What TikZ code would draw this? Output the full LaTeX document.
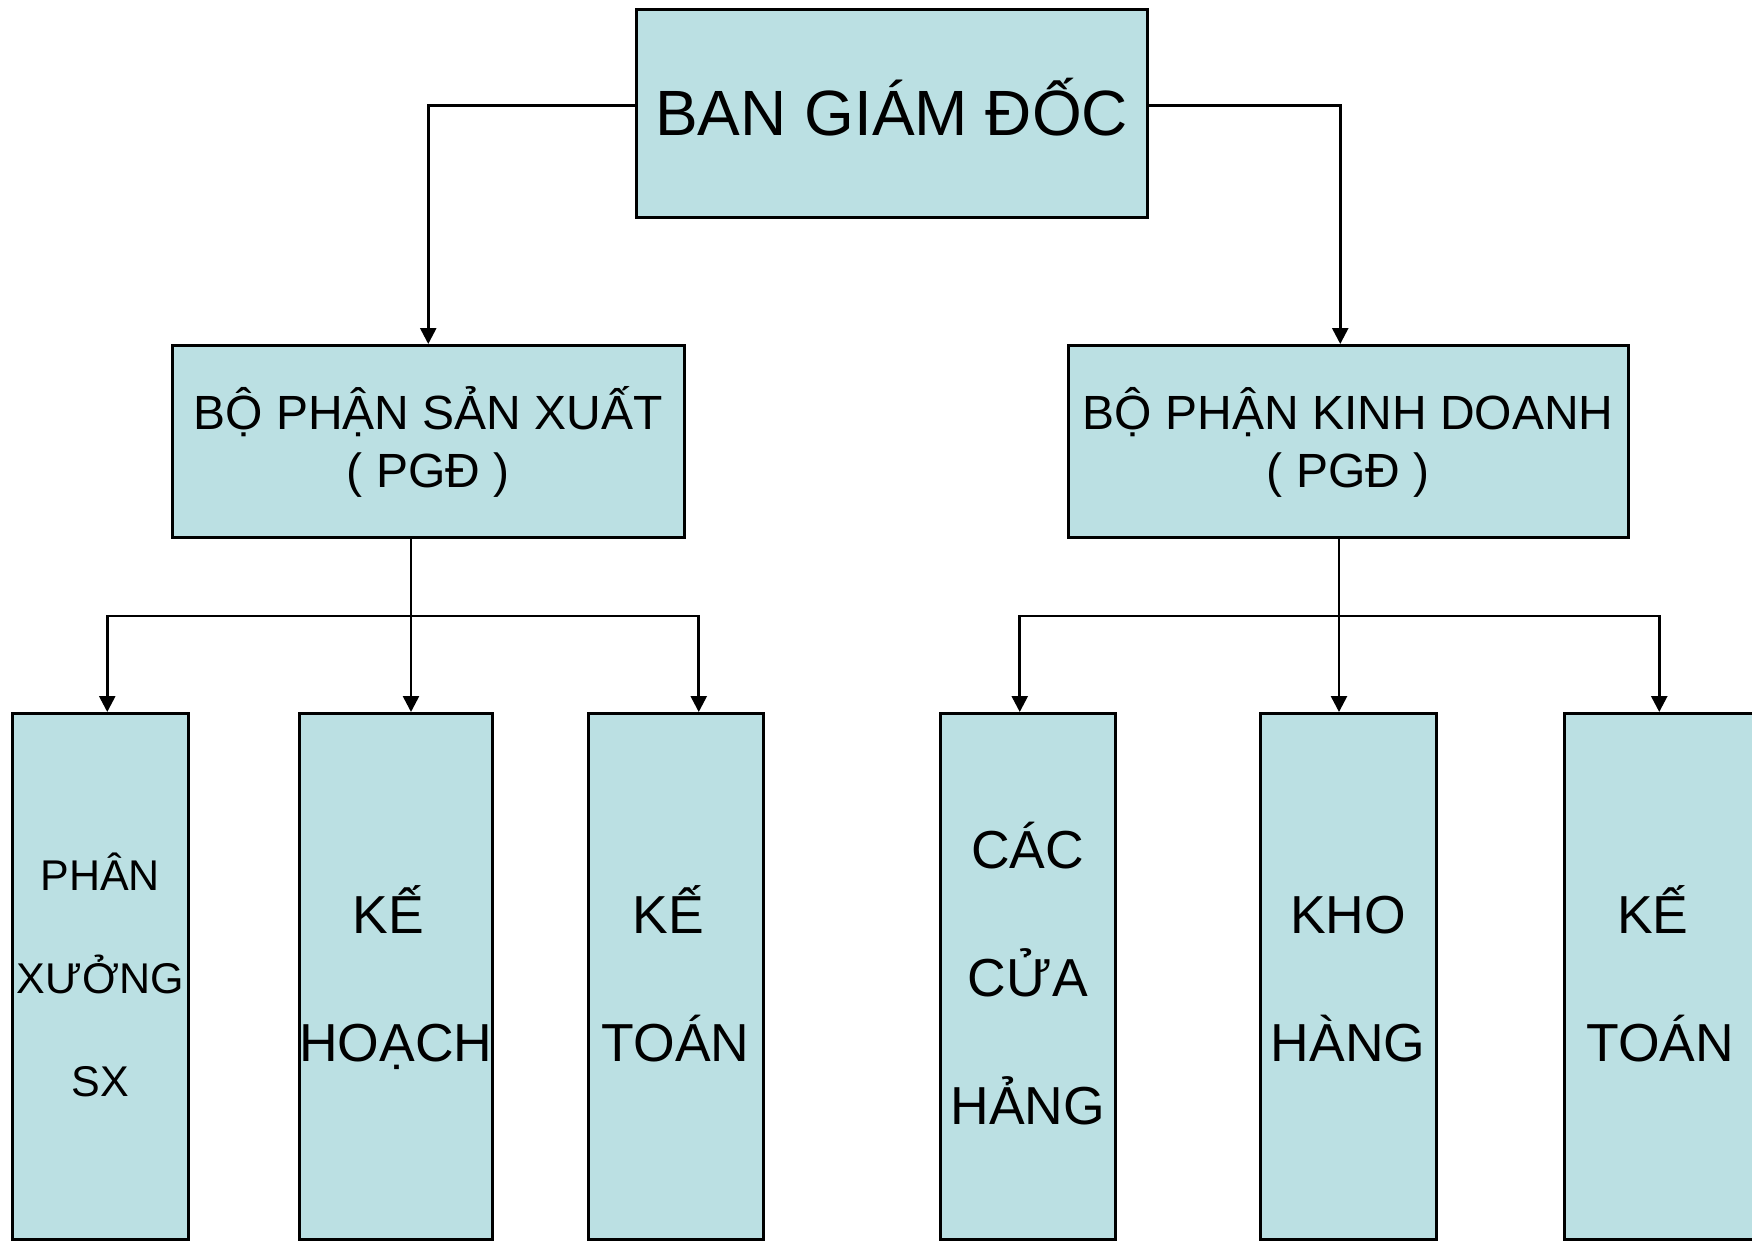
\documentclass[tikz,border=0pt]{standalone}
\usepackage{fontspec}
\setmainfont{Liberation Sans}
\usetikzlibrary{arrows.meta}
\definecolor{boxfill}{RGB}{187,224,227}
\begin{document}
\begin{tikzpicture}[x=1pt,y=-1pt,
  unit/.style={draw=black,line width=2.5pt,fill=boxfill,rectangle,inner sep=0pt,
    anchor=north west,align=center},
  link/.style={line width=2.6pt},
  arr/.style={line width=2.6pt,-{Triangle[length=16pt,width=16pt]}}]
\useasboundingbox (0,0) rectangle (1752,1240);
\fill[white] (0,0) rectangle (1752,1240);

% director
\node[unit,minimum width=511,minimum height=208,font=\fontsize{64}{78}\selectfont,
  text height=56pt,text depth=12pt]
  (bgd) at (635,8) {BAN GIÁM ĐỐC};

% deputy directors
\node[unit,minimum width=512,minimum height=192,font=\fontsize{48}{58}\selectfont,
  text height=106pt,text depth=14pt]
  (sx) at (171,344) {BỘ PHẬN SẢN XUẤT\\( PGĐ )};
\node[unit,minimum width=560,minimum height=192,font=\fontsize{48}{58}\selectfont,
  text height=106pt,text depth=14pt]
  (kd) at (1067,344) {BỘ PHẬN KINH DOANH\\( PGĐ )};

% departments
\node[unit,minimum width=176,minimum height=526,font=\fontsize{43}{103}\selectfont,
  text height=256pt,text depth=16pt]
  (px) at (11,712) {PHÂN\\XƯỞNG\\SX};
\node[unit,minimum width=192,minimum height=526,font=\fontsize{53.5}{128}\selectfont,
  text height=186pt,text depth=16pt]
  (kh) at (298,712) {KẾ\kern0.28em\\HOẠCH};
\node[unit,minimum width=175,minimum height=526,font=\fontsize{53.5}{128}\selectfont,
  text height=186pt,text depth=16pt]
  (kt1) at (587,712) {KẾ\kern0.28em\\TOÁN};
\node[unit,minimum width=175,minimum height=526,font=\fontsize{53.5}{128}\selectfont,
  text height=313pt,text depth=16pt]
  (ch) at (939,712) {CÁC\\CỬA\\HẢNG};
\node[unit,minimum width=176,minimum height=526,font=\fontsize{53.5}{128}\selectfont,
  text height=186pt,text depth=16pt]
  (kho) at (1259,712) {KHO\\HÀNG};
\node[unit,minimum width=192,minimum height=526,font=\fontsize{53.5}{128}\selectfont,
  text height=186pt,text depth=16pt]
  (kt2) at (1563,712) {KẾ\kern0.28em\\TOÁN};

% director to deputies
\draw[arr] ([yshift=8pt]bgd.west) -| (sx.north);
\draw[arr] ([yshift=8pt]bgd.east) -| ([xshift=-8pt]kd.north);

% production branch
\coordinate (sxj) at (411,616);
\draw[link] (sxj |- sx.south) -- (sxj);
\draw[arr] (sxj) -| ([xshift=7pt]px.north);
\draw[arr] (sxj) -- (sxj |- kh.north);
\draw[arr] (sxj) -| ([xshift=23pt]kt1.north);

% business branch
\coordinate (kdj) at (1339,616);
\draw[link] (kdj |- kd.south) -- (kdj);
\draw[arr] (kdj) -| ([xshift=-8pt]ch.north);
\draw[arr] (kdj) -- (kdj |- kho.north);
\draw[arr] (kdj) -| ([xshift=-1pt]kt2.north);
\end{tikzpicture}
\end{document}
